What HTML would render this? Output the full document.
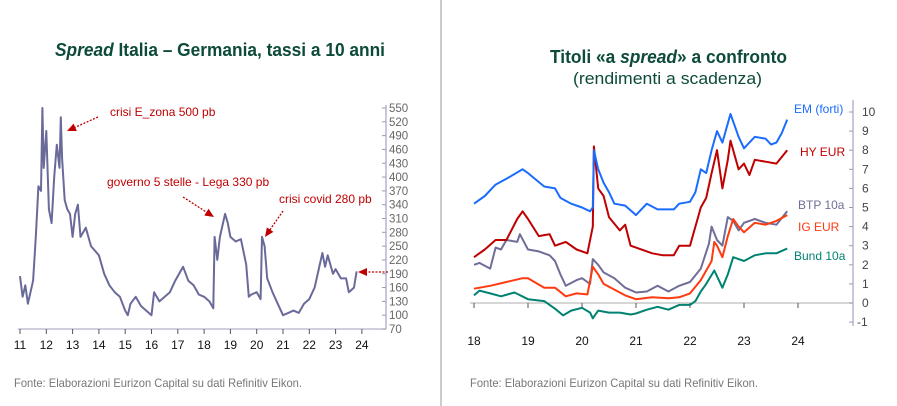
<!DOCTYPE html>
<html><head><meta charset="utf-8"><style>
body{margin:0;background:#fff;}
svg{display:block;font-family:"Liberation Sans",sans-serif;}
</style></head><body>
<svg id="c" width="897" height="406" viewBox="0 0 897 406">
<line x1="441" y1="0" x2="441" y2="406" stroke="#999" stroke-width="1"/>
<text x="55" y="56" font-size="18" font-weight="bold" fill="#0d4a3a" textLength="330" lengthAdjust="spacingAndGlyphs"><tspan font-style="italic">Spread</tspan> Italia – Germania, tassi a 10 anni</text>
<text x="550" y="63" font-size="18" font-weight="bold" fill="#0d4a3a" textLength="237" lengthAdjust="spacingAndGlyphs">Titoli «a <tspan font-style="italic">spread</tspan>» a confronto</text>
<text x="573" y="84" font-size="17" fill="#0d4a3a" textLength="189" lengthAdjust="spacingAndGlyphs">(rendimenti a scadenza)</text>
<text x="14" y="387" font-size="12" fill="#777" textLength="288" lengthAdjust="spacingAndGlyphs">Fonte: Elaborazioni Eurizon Capital su dati Refinitiv Eikon.</text>
<text x="470" y="387" font-size="12" fill="#777" textLength="288" lengthAdjust="spacingAndGlyphs">Fonte: Elaborazioni Eurizon Capital su dati Refinitiv Eikon.</text>
<g id="L"></g><g id="R"></g>
</svg>
<script>
const leftYears=[11,12,13,14,15,16,17,18,19,20,21,22,23,24];
const leftTicks=[70,100,130,160,190,220,250,280,310,340,370,400,430,460,490,520,550];
const spreadT=[2011.0,2011.1,2011.2,2011.3,2011.4,2011.5,2011.6,2011.7,2011.8,2011.85,2011.9,2012.0,2012.1,2012.2,2012.3,2012.4,2012.5,2012.55,2012.6,2012.7,2012.8,2012.9,2013.0,2013.1,2013.2,2013.3,2013.5,2013.7,2014.0,2014.2,2014.4,2014.6,2014.8,2015.0,2015.1,2015.2,2015.4,2015.6,2015.8,2016.0,2016.1,2016.3,2016.5,2016.7,2016.9,2017.0,2017.2,2017.4,2017.6,2017.8,2018.0,2018.2,2018.35,2018.4,2018.5,2018.6,2018.8,2018.9,2019.0,2019.2,2019.4,2019.6,2019.7,2019.8,2020.0,2020.15,2020.2,2020.3,2020.4,2020.6,2020.8,2021.0,2021.2,2021.4,2021.6,2021.8,2022.0,2022.2,2022.4,2022.5,2022.6,2022.7,2022.9,2023.0,2023.2,2023.4,2023.5,2023.7,2023.8];
const spreadV=[185,140,165,125,150,175,270,380,370,550,420,500,330,300,400,470,420,530,440,350,330,320,270,320,340,270,290,250,230,190,165,150,140,110,100,125,140,120,110,100,150,130,140,150,175,185,205,175,165,145,140,130,115,270,220,270,320,300,270,260,265,210,140,145,150,135,270,250,180,150,125,100,105,110,105,125,135,160,210,235,205,230,190,200,180,180,150,160,195];

const rightYears=[18,19,20,21,22,23,24];
const rightTicks=[-1,0,1,2,3,4,5,6,7,8,9,10];
const emT=[18.0,18.2,18.4,18.6,18.9,19.0,19.3,19.5,19.6,19.8,20.0,20.15,20.2,20.22,20.3,20.4,20.5,20.6,20.8,21.0,21.2,21.4,21.7,21.8,22.0,22.1,22.2,22.3,22.4,22.5,22.6,22.75,22.9,23.0,23.2,23.4,23.5,23.6,23.7,23.8];
const emV=[5.2,5.6,6.2,6.5,7.0,6.8,6.1,6.0,5.5,5.2,5.0,4.8,5.0,8.0,7.0,6.3,5.8,5.2,5.1,4.6,5.2,4.9,4.9,5.2,5.3,5.8,7.0,6.8,8.0,9.0,8.4,9.9,8.7,8.1,8.7,8.6,8.3,8.4,8.9,9.6];
const hyT=[18.0,18.2,18.4,18.6,18.8,18.9,19.0,19.2,19.4,19.5,19.7,19.9,20.1,20.2,20.22,20.3,20.4,20.5,20.7,20.8,20.9,21.0,21.3,21.5,21.7,21.8,22.0,22.1,22.2,22.3,22.4,22.5,22.6,22.7,22.75,22.9,23.0,23.1,23.2,23.4,23.6,23.8];
const hyV=[2.4,2.8,3.3,3.3,4.4,4.8,4.4,3.5,3.6,3.0,3.2,2.8,2.6,4.0,8.2,6.0,5.6,4.5,3.8,4.1,3.0,2.9,2.6,2.5,2.5,3.0,3.0,4.0,5.0,5.5,6.8,8.0,6.0,7.5,8.5,7.0,7.3,6.7,7.5,7.4,7.3,8.0];
const btpT=[18.0,18.1,18.3,18.4,18.5,18.6,18.8,18.85,19.0,19.2,19.4,19.5,19.6,19.7,19.9,20.0,20.15,20.2,20.3,20.4,20.6,20.8,21.0,21.2,21.4,21.6,21.8,22.0,22.2,22.35,22.4,22.5,22.6,22.7,22.8,22.9,23.0,23.2,23.4,23.6,23.8];
const btpV=[2.0,2.1,1.8,2.9,2.8,3.3,3.2,3.6,2.8,2.7,2.5,2.2,1.5,0.9,1.2,1.3,1.0,2.3,2.0,1.6,1.3,0.8,0.55,0.6,0.9,0.6,0.9,1.1,1.8,3.1,4.0,3.3,3.0,4.5,4.3,3.8,4.2,4.4,4.2,4.1,4.8];
const igT=[18.0,18.3,18.6,18.9,19.0,19.3,19.5,19.7,19.9,20.1,20.2,20.3,20.4,20.6,20.8,21.0,21.3,21.6,21.8,22.0,22.2,22.4,22.45,22.5,22.6,22.7,22.8,22.9,23.0,23.2,23.4,23.6,23.8];
const igV=[0.75,0.9,1.1,1.3,1.3,0.8,0.8,0.35,0.5,0.45,1.9,1.5,1.0,0.7,0.4,0.2,0.3,0.25,0.3,0.5,1.2,2.2,3.2,3.0,2.4,3.5,4.4,4.0,3.7,4.2,4.1,4.3,4.6];
const bundT=[18.0,18.1,18.3,18.5,18.75,19.0,19.3,19.5,19.65,19.8,20.0,20.15,20.2,20.3,20.5,20.7,20.9,21.0,21.2,21.4,21.6,21.8,22.0,22.1,22.2,22.3,22.45,22.6,22.7,22.8,23.0,23.2,23.4,23.6,23.8];
const bundV=[0.4,0.65,0.5,0.35,0.55,0.2,0.1,-0.3,-0.65,-0.4,-0.25,-0.5,-0.8,-0.4,-0.5,-0.5,-0.6,-0.55,-0.35,-0.2,-0.35,-0.1,-0.1,0.1,0.6,1.0,1.7,0.8,1.5,2.4,2.2,2.5,2.6,2.6,2.85];

const NS="http://www.w3.org/2000/svg";
function mk(parent,tag,attrs,text){const e=document.createElementNS(NS,tag);for(const k in attrs)e.setAttribute(k,attrs[k]);if(text!==undefined)e.textContent=text;parent.appendChild(e);return e;}

// LEFT
const L=document.getElementById('L');
const lx=t=>20+(t-2011)*26.3;
const ly=v=>329-(v-70)*(221/480);
let ax=mk(L,'line',{x1:18,y1:329,x2:386,y2:329,stroke:'#b0b0c8','stroke-width':1.2});


let ay=mk(L,'line',{x1:386,y1:105,x2:386,y2:329,stroke:'#c8c8dc','stroke-width':2});


leftYears.forEach(y=>{
  const x=lx(2000+y);
  mk(L,'line',{x1:x,y1:329,x2:x,y2:334,stroke:'#555'});
  const t=mk(L,'text',{x:x,y:349,'font-size':12,'text-anchor':'middle',fill:'#111'},String(y));
  
  
});
leftTicks.forEach(v=>{
  const y=ly(v);
  mk(L,'line',{x1:382,y1:y,x2:386,y2:y,stroke:'#9a9ab8'});
  const t=mk(L,'text',{x:389,y:y+4,'font-size':11.5,fill:'#666'},String(v));
  
  
});
let pts=spreadT.map((t,i)=>lx(t).toFixed(1)+','+ly(spreadV[i]).toFixed(1)).join(' ');
let pl=mk(L,'polyline',{points:pts,fill:'none',stroke:'#6a6a9a','stroke-width':2,'stroke-linejoin':'round'});


function arrow(g,x1,y1,x2,y2,name){
  const a=Math.atan2(y2-y1,x2-x1),len=Math.hypot(x2-x1,y2-y1)-8;
  const ln=mk(g,'line',{x1:x1,y1:y1,x2:x1+Math.cos(a)*len,y2:y1+Math.sin(a)*len,stroke:'#c00000','stroke-width':1.3,'stroke-dasharray':'2,1.5'});
  
  
  const c=Math.cos(a),s=Math.sin(a);
  const p=[[x2,y2],[x2-9*c+4*s,y2-9*s-4*c],[x2-9*c-4*s,y2-9*s+4*c]].map(q=>q.join(',')).join(' ');
  mk(g,'polygon',{points:p,fill:'#c00000'});
}
const ann=[['crisi E_zona 500 pb',110,116],['governo 5 stelle - Lega 330 pb',107,186],['crisi covid 280 pb',279,203]];
ann.forEach(a=>{const t=mk(L,'text',{x:a[1],y:a[2],'font-size':12,fill:'#c00000'},a[0]);
  
  });
arrow(L,98,117,67,131,'arrow-ezona');
arrow(L,183,197,214,217,'arrow-governo');
arrow(L,283,211,265,237,'arrow-covid');
arrow(L,388,272,358,272,'arrow-latest');

// RIGHT
const R=document.getElementById('R');
const rx=t=>474+(t-18)*54;
const ry=v=>303-v*19.1;
let r0=mk(R,'line',{x1:470,y1:ry(0),x2:853,y2:ry(0),stroke:'#c8c8c8','stroke-width':1.5});


let ray=mk(R,'line',{x1:853,y1:100,x2:853,y2:326,stroke:'#c8c8dc','stroke-width':2});


rightYears.forEach(y=>{
  const x=rx(y);
  mk(R,'line',{x1:x,y1:ry(0),x2:x,y2:ry(0)+5,stroke:'#555'});
  const t=mk(R,'text',{x:x,y:345,'font-size':12,'text-anchor':'middle',fill:'#111'},String(y));
  
  
});
rightTicks.forEach(v=>{
  const y=ry(v);
  mk(R,'line',{x1:849,y1:y,x2:853,y2:y,stroke:'#9a9ab8'});
  const t=mk(R,'text',{x:v<0?857:862,y:y+4,'font-size':12,fill:'#444'},String(v));
  
  
});
const series=[['bund-10a-line',bundT,bundV,'#008272'],['btp-10a-line',btpT,btpV,'#6e6e98'],['ig-eur-line',igT,igV,'#ff3a10'],['hy-eur-line',hyT,hyV,'#c00000'],['em-forti-line',emT,emV,'#1a6cff']];
series.forEach(s=>{
  const p=s[1].map((t,i)=>rx(t).toFixed(1)+','+ry(s[2][i]).toFixed(1)).join(' ');
  const e=mk(R,'polyline',{points:p,fill:'none',stroke:s[3],'stroke-width':2,'stroke-linejoin':'round'});
  
  
});
const labels=[['EM (forti)',794,113,'#1a6cff'],['HY EUR',800,156,'#c00000'],['BTP 10a',798,209,'#6e6e98'],['IG EUR',798,231,'#ff3a10'],['Bund 10a',794,260,'#008272']];
labels.forEach(l=>{const t=mk(R,'text',{x:l[1],y:l[2],'font-size':12,fill:l[3]},l[0]);
  
  });
</script>
</body></html>
